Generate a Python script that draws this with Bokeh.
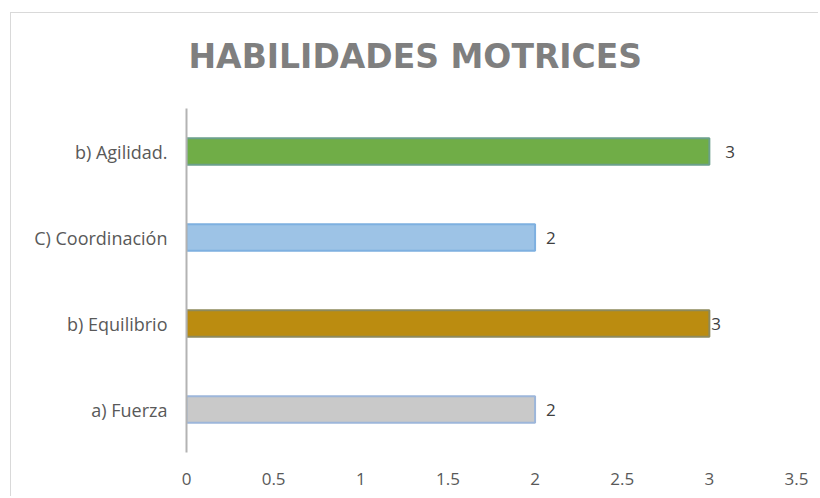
from bokeh.plotting import figure
from bokeh.models import ColumnDataSource, FixedTicker, Title, Range1d
from bokeh.core.properties import value
from bokeh.embed import file_html
from bokeh.resources import INLINE

categories = ["a) Fuerza", "b) Equilibrio", "C) Coordinación", "b) Agilidad."]
values = [2, 3, 2, 3]
x_ticks = [0, 0.5, 1, 1.5, 2, 2.5, 3, 3.5]
x_tick_labels = ["0", "0.5", "1", "1.5", "2", "2.5", "3", "3.5"]
title_text = "HABILIDADES MOTRICES"

# styles
fill_colors = ["#c9c9c9", "#bb8c10", "#9dc3e6", "#70ad47"]
line_colors = ["#9db6da", "#8e8a5c", "#7eb0e0", "#6ba08a"]
label_offsets = [11, 2, 11, 16]

src = ColumnDataSource(dict(cat=categories, val=values, fill=fill_colors,
                            line=line_colors, off=label_offsets,
                            lab=[str(v) for v in values]))

p = figure(width=818, height=496, y_range=categories, x_range=Range1d(0, 3.5),
           output_backend="svg", toolbar_location=None,
           min_border_left=186, min_border_right=22, min_border_top=108,
           min_border_bottom=44)
# light chart-area frame (left and top edges), drawn behind a transparent canvas
p.border_fill_color = None
p.background_fill_color = None
p.styles = {
    "background-color": "white",
    "background-image": "linear-gradient(#d9d9d9, #d9d9d9), linear-gradient(#d9d9d9, #d9d9d9)",
    "background-size": "1px 100%, 100% 1px",
    "background-position": "10px 12px, 10px 12px",
    "background-repeat": "no-repeat",
}

p.hbar(y="cat", right="val", left=0, height=0.31, fill_color="fill",
       line_color="line", line_width=2, source=src)
p.text(x="val", y="cat", text="lab", x_offset="off", source=src,
       text_font=value("Open Sans"), text_font_size="17px", text_color="#404040",
       text_baseline="middle", text_align="left")

t = Title(text=title_text, align="left", offset=2, text_font="DejaVu Sans",
          text_font_size="33px", text_font_style="bold", text_color="#7f7f7f",
          standoff=66)
p.add_layout(t, "above")

p.xgrid.visible = False
p.ygrid.visible = False
p.outline_line_color = None

p.xaxis.ticker = FixedTicker(ticks=x_ticks)
p.xaxis.major_label_overrides = {t_: l for t_, l in zip(x_ticks, x_tick_labels)}
p.xaxis.axis_line_color = None
p.xaxis.major_tick_line_color = None
p.xaxis.minor_tick_line_color = None
p.xaxis.major_label_standoff = 14
p.xaxis.major_label_text_font = "Open Sans"
p.xaxis.major_label_text_font_size = "17px"
p.xaxis.major_label_text_color = "#595959"

p.yaxis.axis_line_color = "#b3b3b3"
p.yaxis.axis_line_width = 2
p.yaxis.major_tick_line_color = None
p.yaxis.minor_tick_line_color = None
p.yaxis.major_label_standoff = 13
p.yaxis.major_label_text_font = "Open Sans"
p.yaxis.major_label_text_font_size = "18px"
p.yaxis.major_label_text_color = "#595959"

open("out.html", "w").write(file_html(p, INLINE))
